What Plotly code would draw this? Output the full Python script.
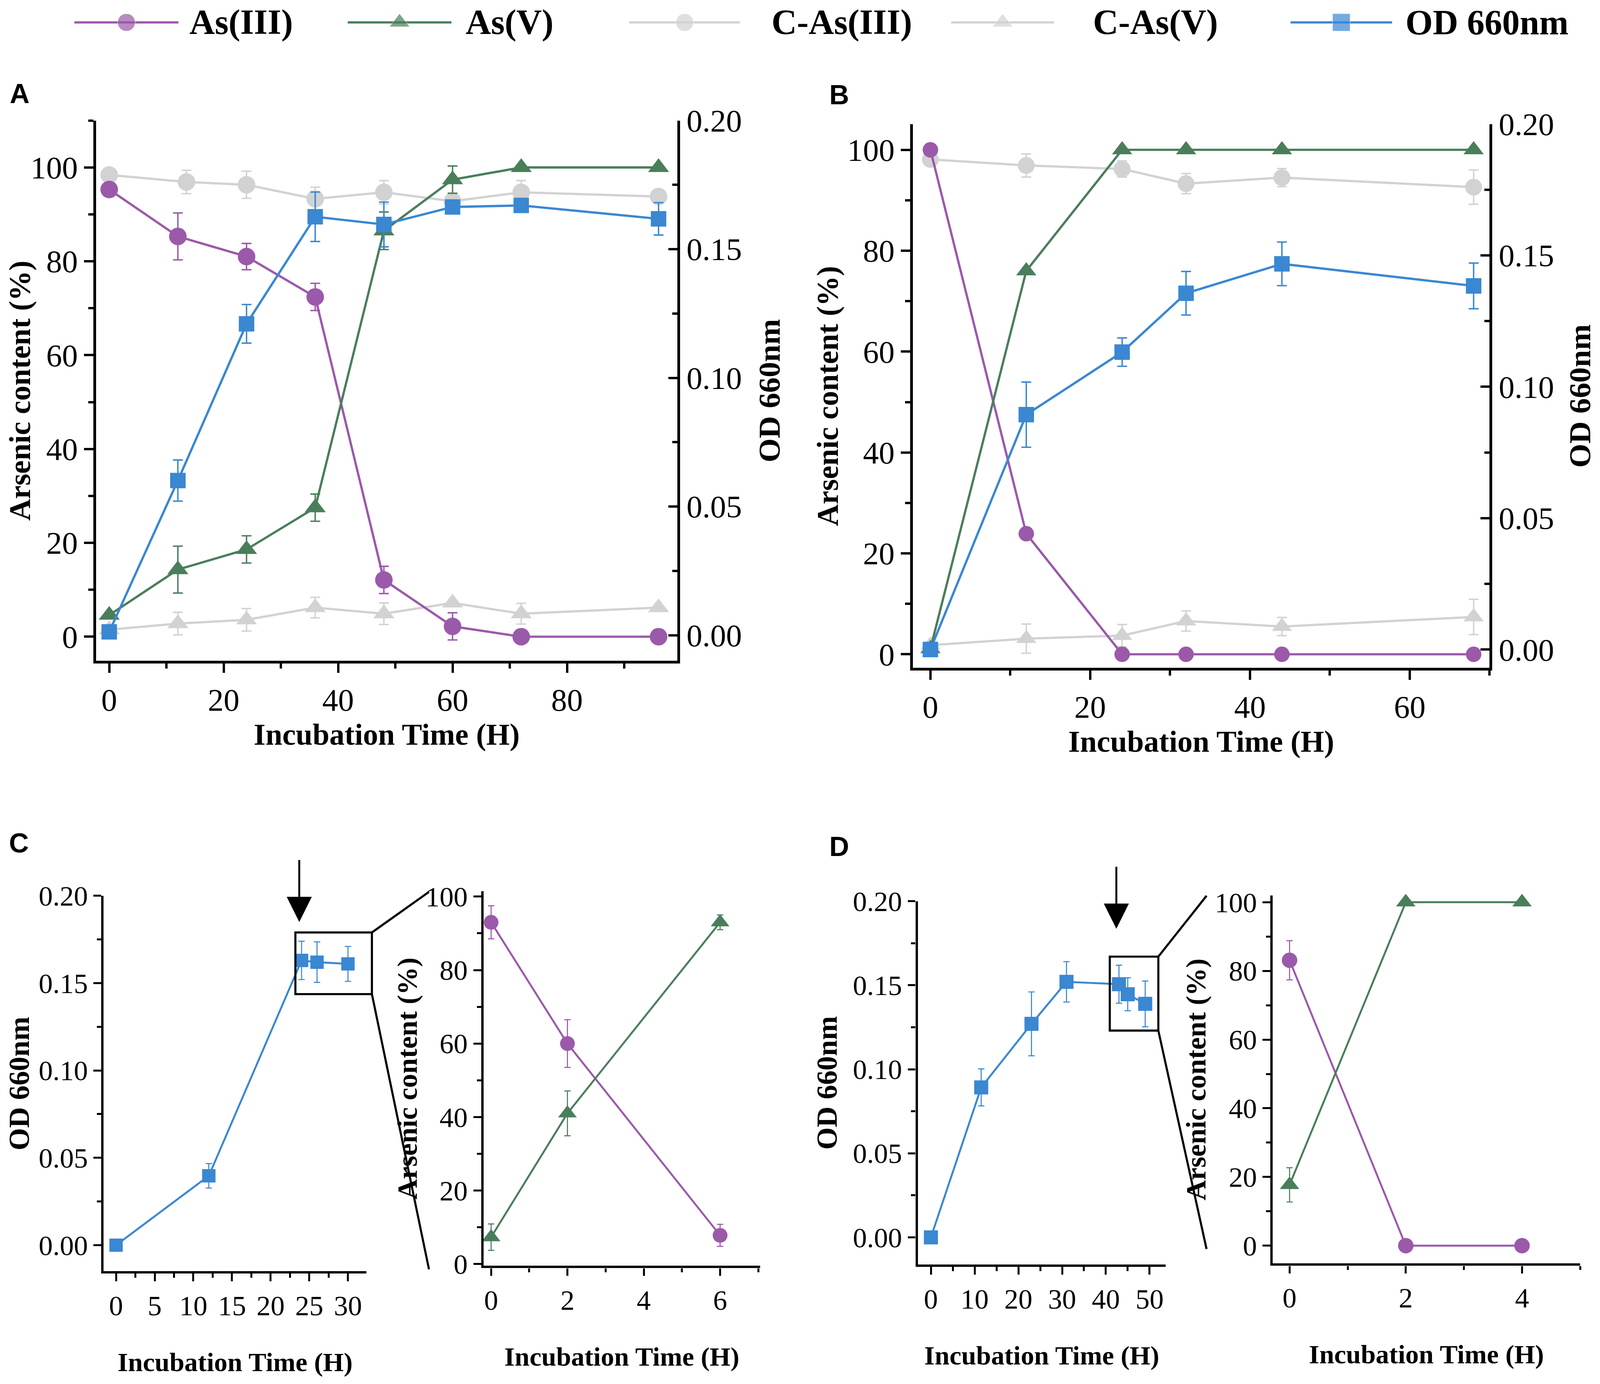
import plotly.graph_objects as go

# colours used in the original figure
PURPLE = "#9B59AA"
GREEN = "#4A7E5B"
GREY = "#D2D2D2"
BLUE = "#3A87D2"
SERIF = "Liberation Serif"
S = 0.9  # the page is shown a bit larger than css px, so shrink pixel sizes

# ---- panel A (long culture) ----
a_time = [0, 12, 24, 36, 48, 60, 72, 96]
a_ctrl_time = [0, 13.5, 24, 36, 48, 60, 72, 96]
a_as3 = [95.3, 85.3, 81.0, 72.4, 12.1, 2.2, 0, 0]
a_as3_err = [0, 5.0, 2.8, 2.9, 2.9, 2.9, 0, 0]
a_as5 = [4.6, 14.3, 18.6, 27.5, 86.5, 97.4, 100, 100]
a_as5_err = [0, 5.0, 2.9, 2.9, 4.0, 2.9, 0, 0]
a_c_as3 = [98.4, 96.9, 96.3, 93.3, 94.7, 92.8, 94.7, 93.8]
a_c_as3_err = [0, 2.5, 2.9, 2.5, 2.5, 0, 2.5, 0]
a_c_as5 = [1.5, 2.8, 3.6, 6.2, 4.9, 7.2, 4.9, 6.2]
a_c_as5_err = [0, 2.4, 2.4, 2.2, 2.3, 0, 2.2, 0]
a_od = [0.0013, 0.0601, 0.121, 0.1626, 0.1596, 0.1664, 0.167, 0.1618]
a_od_err = [0, 0.008, 0.0075, 0.0096, 0.0087, 0.0023, 0.0025, 0.0063]

# ---- panel B ----
b_time = [0, 12, 24, 32, 44, 68]
b_as3 = [100, 23.9, 0, 0, 0, 0]
b_as5 = [1.1, 76.0, 100, 100, 100, 100]
b_c_as3 = [98.1, 96.9, 96.2, 93.3, 94.5, 92.6]
b_c_as3_err = [0, 2.3, 1.6, 2.0, 1.8, 3.4]
b_c_as5 = [1.8, 3.1, 3.7, 6.6, 5.5, 7.4]
b_c_as5_err = [0, 2.9, 2.2, 2.0, 1.8, 3.5]
b_od = [0.0, 0.0894, 0.1132, 0.1356, 0.1468, 0.1384]
b_od_err = [0, 0.0124, 0.0054, 0.0083, 0.0083, 0.0087]

# ---- panel C (growth curve + zoomed oxidation) ----
c_od_time = [0, 12, 24, 26, 30]
c_od = [0.0, 0.0397, 0.163, 0.162, 0.161]
c_od_err = [0, 0.007, 0.011, 0.0116, 0.010]
c_zoom_time = [0, 2, 6]
c_as3 = [93.0, 60.0, 7.8]
c_as3_err = [4.5, 6.5, 3.0]
c_as5 = [7.3, 41.0, 93.0]
c_as5_err = [3.6, 6.1, 2.0]

# ---- panel D ----
d_od_time = [0, 11.5, 23, 31, 43, 45, 49]
d_od = [0.0, 0.0892, 0.127, 0.152, 0.1506, 0.1446, 0.1389]
d_od_err = [0, 0.011, 0.019, 0.012, 0.0113, 0.0098, 0.0136]
d_zoom_time = [0, 2, 4]
d_as3 = [83.1, 0, 0]
d_as3_err = [5.7, 0, 0]
d_as5 = [17.7, 100, 100]
d_as5_err = [5.0, 0, 0]

legend_names = ["As(III)", "As(V)", "C-As(III)", "C-As(V)", "OD 660nm"]
legend_colors = [PURPLE, GREEN, GREY, GREY, BLUE]
legend_symbols = ["circle", "triangle-up", "circle", "triangle-up", "square"]

# layout of the subplots (paper fractions)
dom = {
    "A": ([0.0583, 0.4231], [0.5226, 0.9148]),
    "B": ([0.5708, 0.9327], [0.5175, 0.9122]),
    "CL": ([0.0631, 0.2280], [0.0796, 0.3521]),
    "CR": ([0.3014, 0.4750], [0.0835, 0.3555]),
    "DL": ([0.5739, 0.7295], [0.0844, 0.3482]),
    "DR": ([0.7966, 0.9895], [0.0852, 0.3524]),
}
rng = {
    "A": ([-2.3, 99.3], [-5.15, 110.0], [-0.00996, 0.2]),
    "B": ([-2.2, 70.0], [-2.7, 105.1], [-0.007, 0.2]),
    "CL": ([-1.6, 32.4], [-0.0149, 0.2]),
    "CR": ([-0.2, 7.05], [-0.5, 101.5]),
    "DL": ([-3.0, 53.7], [-0.0162, 0.2]),
    "DR": ([-0.29, 5.0], [-5.2, 102.0]),
}

fig = go.Figure()


def add_series(x, y, err, color, symbol, size, xa, ya, small=False):
    fig.add_trace(go.Scatter(
        x=x, y=y, mode="lines+markers", xaxis=xa, yaxis=ya, showlegend=False,
        line=dict(color=color, width=(5.5 if small else 6.5) * S),
        marker=dict(color=color, symbol=symbol, size=size * S, line=dict(width=0)),
        error_y=dict(type="data", array=err, visible=True, color=color,
                     thickness=(3 if small else 4) * S, width=(9 if small else 14) * S),
        cliponaxis=False))


# A
add_series(a_ctrl_time, a_c_as3, a_c_as3_err, GREY, "circle", 50, "x", "y")
add_series(a_time, a_c_as5, a_c_as5_err, GREY, "triangle-up", 52, "x", "y")
add_series(a_time, a_as3, a_as3_err, PURPLE, "circle", 50, "x", "y")
add_series(a_time, a_as5, a_as5_err, GREEN, "triangle-up", 52, "x", "y")
add_series(a_time, a_od, a_od_err, BLUE, "square", 44, "x", "y2")
# B
add_series(b_time, b_c_as3, b_c_as3_err, GREY, "circle", 48, "x2", "y3")
add_series(b_time, b_c_as5, b_c_as5_err, GREY, "triangle-up", 50, "x2", "y3")
add_series(b_time, b_as3, [0] * len(b_time), PURPLE, "circle", 44, "x2", "y3")
add_series(b_time, b_as5, [0] * len(b_time), GREEN, "triangle-up", 50, "x2", "y3")
add_series(b_time, b_od, b_od_err, BLUE, "square", 44, "x2", "y4")
# C
add_series(c_od_time, c_od, c_od_err, BLUE, "square", 38, "x3", "y5", small=True)
add_series(c_zoom_time, c_as3, c_as3_err, PURPLE, "circle", 42, "x4", "y6", small=True)
add_series(c_zoom_time, c_as5, c_as5_err, GREEN, "triangle-up", 46, "x4", "y6", small=True)
# D
add_series(d_od_time, d_od, d_od_err, BLUE, "square", 40, "x5", "y7", small=True)
add_series(d_zoom_time, d_as3, d_as3_err, PURPLE, "circle", 44, "x6", "y8", small=True)
add_series(d_zoom_time, d_as5, d_as5_err, GREEN, "triangle-up", 48, "x6", "y8", small=True)

# legend strip drawn on its own hidden axis so the sample lines can be long
legend_slots = [(0.0447, 0.1100, 0.1164), (0.2162, 0.2813, 0.2896), (0.3929, 0.4624, 0.4815),
                (0.5949, 0.6594, 0.6833), (0.8078, 0.8715, 0.8795)]
for name, col, sym, (s, e, t) in zip(legend_names, legend_colors, legend_symbols, legend_slots):
    fig.add_trace(go.Scatter(
        x=[s, (s + e) / 2, e], y=[0.5, 0.5, 0.5], mode="lines+markers", xaxis="x7", yaxis="y9",
        line=dict(color=col, width=6.5 * S), marker=dict(color=col, symbol=sym, size=[0, 50 * S, 0]),
        showlegend=False, hoverinfo="skip"))
    fig.add_annotation(x=t, y=0.5, xref="paper", yref="y9", text=name, showarrow=False,
                       xanchor="left", yanchor="middle",
                       font=dict(family=SERIF, size=100 * S, color="black", weight="bold"))


def axis(domain, r, dtick, minor, anchor, tsize, title="", tlsize=84, standoff=10,
         side=None, ticks="outside", fmt=None, overlaying=None, small=False):
    lw = 7 if small else 8
    tl = 22 if small else 26
    d = dict(domain=domain, range=r, anchor=anchor, tick0=0, dtick=dtick,
             showline=True, linecolor="black", linewidth=lw * S, mirror=False,
             ticks=ticks, ticklen=tl * S, tickwidth=(lw - 1) * S, tickcolor="black",
             minor=dict(dtick=minor, tick0=0, ticks=ticks, ticklen=tl * 0.55 * S,
                        tickwidth=(lw - 1) * S, tickcolor="black"),
             showgrid=False, zeroline=False, automargin=False,
             tickfont=dict(family=SERIF, size=tsize * S, color="black"),
             title=dict(text=title, standoff=standoff * S,
                        font=dict(family=SERIF, size=tlsize * S, color="black", weight="bold")))
    if side:
        d["side"] = side
    if fmt:
        d["tickformat"] = fmt
    if overlaying:
        d["overlaying"] = overlaying
        d.pop("domain")
    return d


time_title = "Incubation Time (H)"
as_title = "Arsenic content (%)"
od_title = "OD 660nm"

fig.update_layout(
    autosize=True,
    margin=dict(l=0, r=0, t=0, b=0),
    paper_bgcolor="white", plot_bgcolor="white",
    showlegend=False,
    xaxis=axis(dom["A"][0], rng["A"][0], 20, 10, "y", 90, time_title, 86, 18),
    yaxis=axis(dom["A"][1], rng["A"][1], 20, 10, "x", 90, as_title, 86, 0),
    yaxis2=axis(None, rng["A"][2], 0.05, 0.025, "x", 90, od_title, 88, 50,
                side="right", ticks="inside", fmt=".2f", overlaying="y"),
    xaxis2=axis(dom["B"][0], rng["B"][0], 20, 10, "y3", 90, time_title, 86, 18),
    yaxis3=axis(dom["B"][1], rng["B"][1], 20, 10, "x2", 90, as_title, 86, 0),
    yaxis4=axis(None, rng["B"][2], 0.05, 0.025, "x2", 90, od_title, 88, 50,
                side="right", ticks="inside", fmt=".2f", overlaying="y3"),
    xaxis3=axis(dom["CL"][0], rng["CL"][0], 5, 2.5, "y5", 80, time_title, 76, 92, small=True),
    yaxis5=axis(dom["CL"][1], rng["CL"][1], 0.05, 0.025, "x3", 80, od_title, 82, 30, fmt=".2f", small=True),
    xaxis4=axis(dom["CR"][0], rng["CR"][0], 2, 1, "y6", 80, time_title, 76, 92, small=True),
    yaxis6=axis(dom["CR"][1], rng["CR"][1], 20, 10, "x4", 80, as_title, 80, 0, small=True),
    xaxis5=axis(dom["DL"][0], rng["DL"][0], 10, 5, "y7", 80, time_title, 76, 92, small=True),
    yaxis7=axis(dom["DL"][1], rng["DL"][1], 0.05, 0.025, "x5", 80, od_title, 82, 20, fmt=".2f", small=True),
    xaxis6=axis(dom["DR"][0], rng["DR"][0], 2, 1, "y8", 80, time_title, 76, 92, small=True),
    yaxis8=axis(dom["DR"][1], rng["DR"][1], 20, 10, "x6", 80, as_title, 80, 2, small=True),
    xaxis7=dict(domain=[0, 1], range=[0, 1], anchor="y9", visible=False),
    yaxis9=dict(domain=[0.972, 1.0], range=[0, 1], anchor="x7", visible=False),
)

# panel letters
for letter, lx, ly in [("A", 0.0037, 0.9343), ("B", 0.5178, 0.9334), ("C", 0.0033, 0.3905), ("D", 0.5178, 0.3880)]:
    fig.add_annotation(x=lx, y=ly, xref="paper", yref="paper", text=letter, showarrow=False,
                       xanchor="left", yanchor="middle",
                       font=dict(family="Liberation Sans", size=78 * S, color="black", weight="bold"))


def to_paper(v, d, r):
    return d[0] + (v - r[0]) / (r[1] - r[0]) * (d[1] - d[0])


def zoom_box(key, bx, by, end_x, end_top, end_bottom):
    xd, yd = dom[key]
    xr, yr = rng[key][0], rng[key][1]
    x0, x1 = to_paper(bx[0], xd, xr), to_paper(bx[1], xd, xr)
    y0, y1 = to_paper(by[0], yd, yr), to_paper(by[1], yd, yr)
    line = dict(color="black", width=6 * S)
    fig.add_shape(type="rect", xref="paper", yref="paper", x0=x0, x1=x1, y0=y0, y1=y1, line=line)
    fig.add_shape(type="line", xref="paper", yref="paper", x0=x1, y0=y1, x1=end_x, y1=end_top, line=line)
    fig.add_shape(type="line", xref="paper", yref="paper", x0=x1, y0=y0, x1=end_x, y1=end_bottom, line=line)


zoom_box("CL", (23.2, 33.1), (0.1437, 0.179), 0.2672, 0.3549, 0.0810)
zoom_box("DL", (40.9, 52.0), (0.123, 0.167), 0.7551, 0.3521, 0.0957)

# arrows marking the sampling point
fig.add_annotation(x=23.7, y=0.185, xref="x3", yref="y5", ax=0, ay=-178 * S, text="",
                   showarrow=True, arrowhead=2, arrowsize=2.6, arrowwidth=5.5 * S, arrowcolor="black")
fig.add_annotation(x=42.4, y=0.1836, xref="x5", yref="y7", ax=0, ay=-178 * S, text="",
                   showarrow=True, arrowhead=2, arrowsize=2.6, arrowwidth=5.5 * S, arrowcolor="black")

fig.write_html("out.html")
